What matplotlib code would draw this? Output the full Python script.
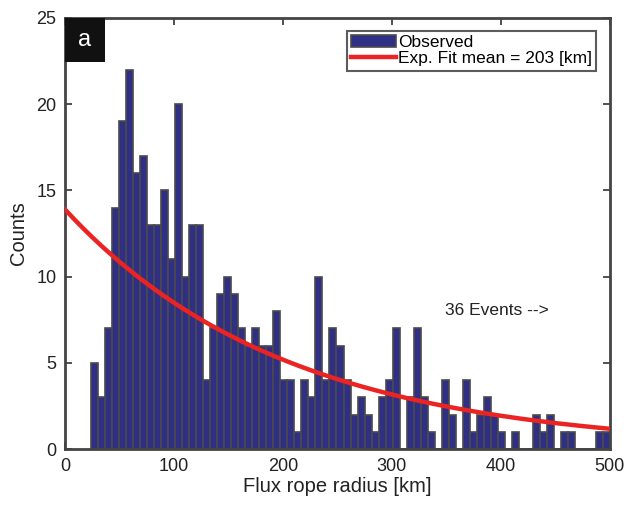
import matplotlib
matplotlib.use("Agg")
import matplotlib.pyplot as plt
import matplotlib.patches as mpatches
import numpy as np

plt.rcParams['font.family'] = ['Liberation Sans', 'DejaVu Sans']

# histogram of flux rope radii (counts per bin)
bin_start = 23.8     # km, left edge of first bin
bin_width = 6.44     # km
counts = [5, 3, 7, 14, 19, 22, 16, 17, 13, 13, 15, 11, 20, 10, 13,
          13, 4, 7, 9, 10, 9, 7, 6, 7, 6, 6, 8,
          4, 4, 1, 4, 3, 10, 4, 7, 6, 4, 2, 3, 2,
          1, 3, 4, 7, 0, 3, 7, 3, 1, 0, 4, 2, 0, 4,
          1, 2, 3, 2, 1, 0, 1, 0, 0, 2, 1, 2, 0, 1, 1, 0, 0, 0, 1, 1]

# exponential fit
fit_mean = 203.0
fit_amp = 13.9

x_ticks = [0, 100, 200, 300, 400, 500]
y_ticks = [0, 5, 10, 15, 20, 25]

fig = plt.figure(figsize=(6.3, 5.07), dpi=100)
ax = fig.add_axes([0.103, 0.114, 0.865, 0.851])

lefts = bin_start + bin_width * np.arange(len(counts))
bars = ax.bar(lefts, counts, width=bin_width, align='edge', color='#2f2f85',
              edgecolor='#4a4a4a', linewidth=1.2, label='Observed', zorder=2)

xf = np.linspace(0, 500, 300)
line, = ax.plot(xf, fit_amp * np.exp(-xf / fit_mean), color='#ec2323',
                linewidth=3.2, label='Exp. Fit mean = 203 [km]', zorder=3)

ax.set_xlim(0, 500)
ax.set_ylim(0, 25)
ax.set_xticks(x_ticks)
ax.set_yticks(y_ticks)
ax.tick_params(direction='in', top=True, right=True, length=5, width=1.2,
               labelsize=13, colors='#333333', labelcolor='#222222', pad=6)
for s in ax.spines.values():
    s.set_linewidth(2)
    s.set_color('#444444')

ax.set_xlabel('Flux rope radius [km]', fontsize=14.5, color='#222222', labelpad=2)
ax.set_ylabel('Counts', fontsize=14.5, color='#222222', labelpad=6)

ax.text(349, 8.05, '36 Events -->', fontsize=12.5, color='#222222',
        va='center', ha='left')

# panel label box
ax.add_patch(mpatches.Rectangle((0, 0.898), 0.073, 0.102, transform=ax.transAxes,
                                facecolor='#111111', edgecolor='none', zorder=5))
ax.text(0.0365, 0.949, 'a', transform=ax.transAxes, fontsize=17, color='white',
        ha='center', va='center', zorder=6)

leg = ax.legend([bars, line], ['Observed', 'Exp. Fit mean = 203 [km]'],
                loc='upper right', bbox_to_anchor=(0.975, 0.97), fontsize=12.5,
                frameon=True, fancybox=False, borderpad=0.25, labelspacing=0.05,
                handlelength=2.6, handletextpad=0.1, borderaxespad=0)
leg.get_frame().set_edgecolor('#333333')
leg.get_frame().set_linewidth(1.5)

fig.savefig('out.png', dpi=100)
